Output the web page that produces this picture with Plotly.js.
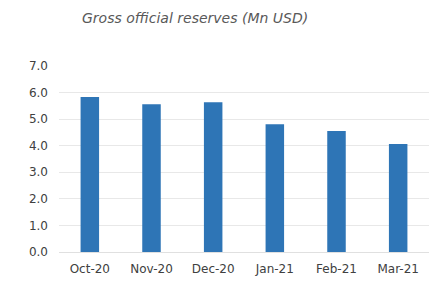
<!DOCTYPE html>
<html><head><meta charset="utf-8">
<script src="https://cdn.plot.ly/plotly-3.0.1.min.js"></script>
<style>html,body{margin:0;padding:0;background:#fff}#c{width:448px;height:282px}</style>
</head><body><div id="c"></div>
<script>
const months = ["Oct-20","Nov-20","Dec-20","Jan-21","Feb-21","Mar-21"];
const reserves = [5.83, 5.56, 5.64, 4.81, 4.55, 4.06];
const yTicks = [0,1,2,3,4,5,6,7];
const yTickLabels = ["0.0","1.0","2.0","3.0","4.0","5.0","6.0","7.0"];
const F = "DejaVu Sans, Arial";

Plotly.newPlot("c", [{
  type: "bar", x: months, y: reserves,
  marker: {color: "#2E75B6"}, hoverinfo: "none"
}], {
  width: 448, height: 282,
  margin: {l: 59, r: 19, t: 66, b: 30},
  paper_bgcolor: "#fff", plot_bgcolor: "#fff",
  bargap: 0.7,
  title: {text: "<i>Gross official reserves (Mn USD)</i>", x: 82/448, xanchor: "left", y: 1 - 18/282, yanchor: "middle",
          font: {family: F, size: 14, color: "#595959"}},
  xaxis: {tickfont: {family: F, size: 12, color: "#404040"}, showline: true, linecolor: "#e0e0e0", ticks: "", ticklabelstandoff: 6},
  yaxis: {range: [0, 7], tickvals: yTicks, ticktext: yTickLabels, gridcolor: "#e8e8e8", zeroline: false,
          tickfont: {family: F, size: 12, color: "#404040"}, ticklabelstandoff: 10}
}, {staticPlot: true});
</script></body></html>
